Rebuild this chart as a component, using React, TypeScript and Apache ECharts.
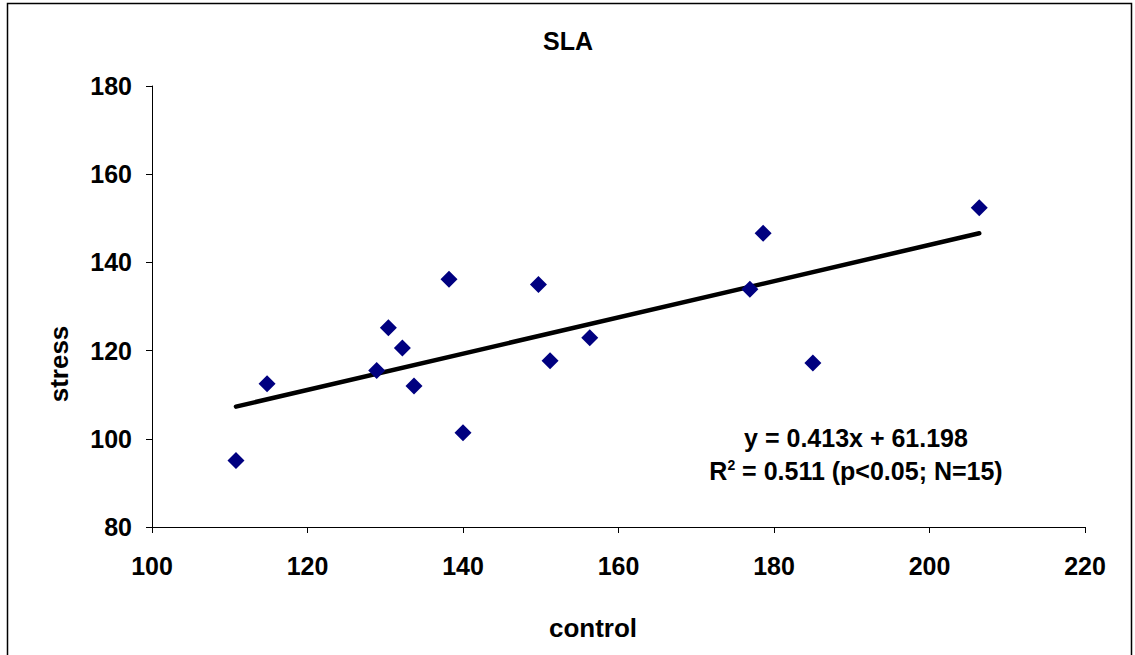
import React, { useEffect, useRef } from "react";
import * as echarts from "echarts";

const controlValues = [110.8, 114.8, 128.9, 130.4, 132.2, 133.7, 138.2, 140.0, 149.7, 151.2, 156.3, 176.9, 178.6, 185.0, 206.4];
const stressValues = [95.1, 112.5, 115.5, 125.2, 120.6, 112.0, 136.2, 101.4, 135.0, 117.7, 122.9, 133.9, 146.6, 117.2, 152.4];
const trendX = [110.8, 206.4];
const trendY = [107.3, 146.6];
const xTicks = { min: 100, max: 220, interval: 20 };
const yTicks = { min: 80, max: 180, interval: 20 };
const titleText = "SLA";
const xName = "control";
const yName = "stress";
const equationText = "y = 0.413x + 61.198";
const r2Value = " = 0.511 (p<0.05; N=15)";

const FONT = "'Liberation Sans', Arial, Helvetica, sans-serif";

export default function App() {
  const ref = useRef<HTMLDivElement>(null);
  useEffect(() => {
    if (!ref.current) return;
    const chart = echarts.init(ref.current, null, { renderer: "svg" });
    const points = controlValues.map((x, i) => [x, stressValues[i]]);
    const trend = trendX.map((x, i) => [x, trendY[i]]);
    const axisCommon = {
      axisLine: { show: true, lineStyle: { color: "#000", width: 1 } },
      axisTick: { show: true, inside: false, length: 6, lineStyle: { color: "#000", width: 1 } },
      splitLine: { show: false },
      axisLabel: { color: "#000", fontFamily: FONT, fontWeight: "bold", fontSize: 25 },
    };
    chart.setOption({
      animation: false,
      backgroundColor: "#fff",
      grid: { left: 152, right: 50, top: 86, bottom: 128, containLabel: false },
      xAxis: {
        type: "value",
        ...xTicks,
        ...axisCommon,
        axisLabel: { ...axisCommon.axisLabel, margin: 26 },
      },
      yAxis: {
        type: "value",
        ...yTicks,
        ...axisCommon,
        axisLabel: { ...axisCommon.axisLabel, margin: 20 },
      },
      series: [
        {
          type: "line",
          data: trend,
          symbol: "none",
          lineStyle: { color: "#000", width: 4.5, cap: "round" },
          z: 2,
        },
        {
          type: "scatter",
          data: points,
          symbol: "diamond",
          symbolSize: 17,
          itemStyle: { color: "#000080", opacity: 1 },
          z: 3,
        },
      ],
      graphic: [
        {
          type: "rect",
          shape: { x: 7.5, y: 3.5, width: 1124, height: 700 },
          style: { fill: "none", stroke: "#000", lineWidth: 1.5 },
          silent: true,
        },
        {
          type: "text",
          x: 568,
          y: 41,
          style: { text: titleText, font: `bold 25px ${FONT}`, fill: "#000", align: "center", verticalAlign: "middle" },
        },
        {
          type: "text",
          x: 593,
          y: 628,
          style: { text: xName, font: `bold 26px ${FONT}`, fill: "#000", align: "center", verticalAlign: "middle" },
        },
        {
          type: "text",
          x: 59,
          y: 364,
          rotation: Math.PI / 2,
          style: { text: yName, font: `bold 26px ${FONT}`, fill: "#000", align: "center", verticalAlign: "middle" },
        },
        {
          type: "text",
          x: 856,
          y: 438,
          style: { text: equationText, font: `bold 25px ${FONT}`, fill: "#000", align: "center", verticalAlign: "middle" },
        },
        {
          type: "text",
          x: 856,
          y: 471,
          style: {
            text: "{a|R}{s|2}{a|" + r2Value + "}",
            align: "center",
            verticalAlign: "middle",
            rich: {
              a: { font: `bold 25px ${FONT}`, fill: "#000", color: "#000" },
              s: { font: `bold 14px ${FONT}`, fill: "#000", color: "#000", verticalAlign: "top", padding: [0, 0, 12, 0] },
            },
          },
        },
      ],
    });
    return () => chart.dispose();
  }, []);
  return (
    <div
      ref={ref}
      style={{ position: "absolute", left: 0, top: 0, width: 1135, height: 655 }}
    />
  );
}
